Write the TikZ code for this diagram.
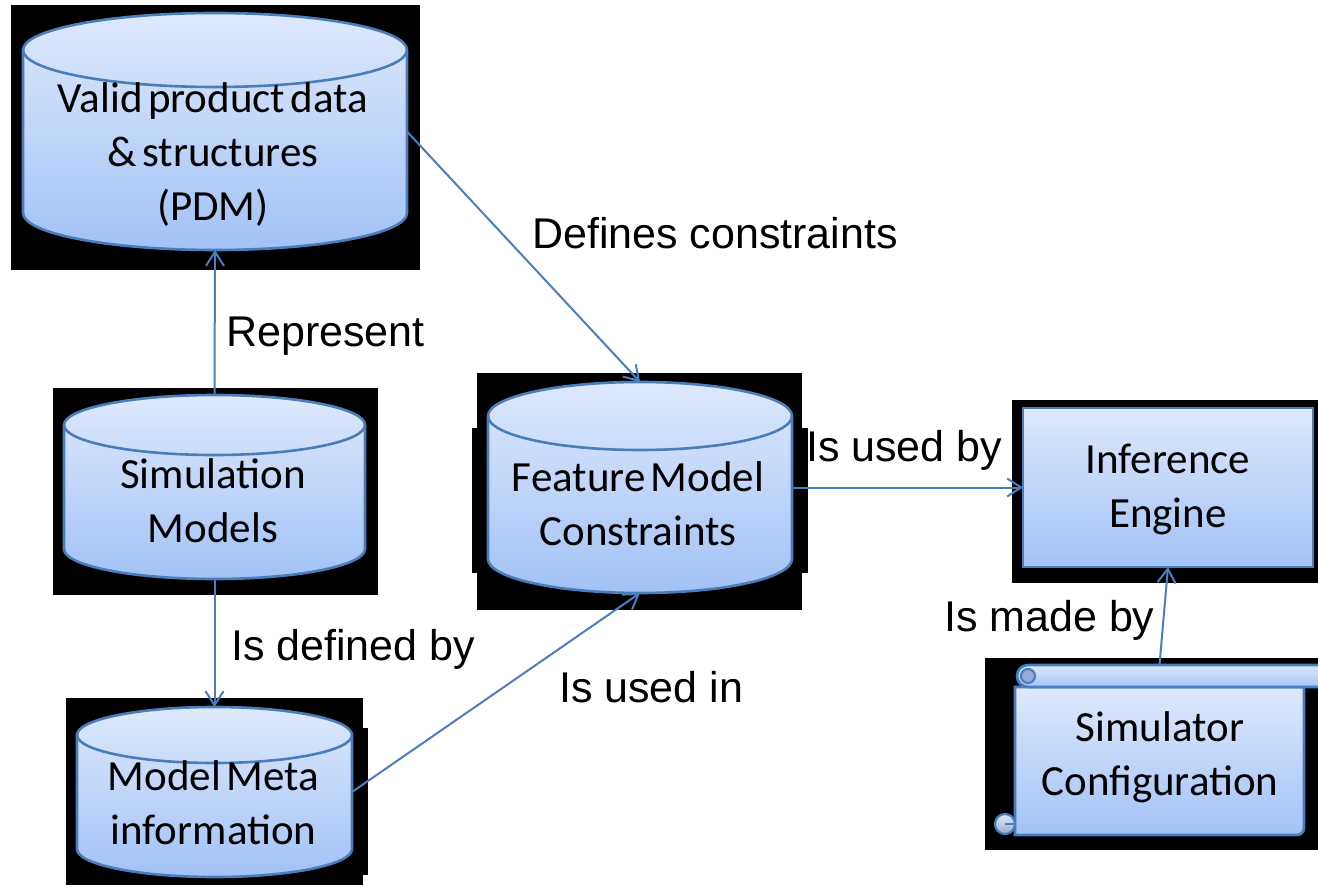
\documentclass[tikz,border=0pt]{standalone}
\usepackage{fontspec}
\setmainfont{Carlito}[WordSpace=0.55]
\newfontfamily\labelfont{Liberation Sans}
\usetikzlibrary{arrows.meta,calc}

\definecolor{shapetop}{RGB}{222,233,252}
\definecolor{shapebot}{RGB}{162,194,246}
\definecolor{shapeline}{RGB}{74,126,187}
\definecolor{linkcol}{RGB}{74,126,190}
\definecolor{curlfill}{RGB}{150,172,214}

\tikzset{
  x=1pt, y=-1pt,
  shadowbox/.style={fill=black, draw=none},
  area/.style={rectangle, draw=none, inner sep=0pt, outer sep=0pt},
  bodyfill/.style={draw=shapeline, line width=2.6pt, top color=shapetop, bottom color=shapebot},
  celltext/.style={inner sep=0pt, font=\fontsize{43}{54}\selectfont},
  linklabel/.style={inner sep=0pt, anchor=base west, font=\labelfont\fontsize{43}{50}\selectfont},
  conn/.style={draw=linkcol, line width=2pt, -{Straight Barb[length=14pt,width=18pt,line width=2pt]}},
}

% cylinder drawn inside the rectangle of a named node; #2 = half height of the end ellipses
\newcommand\drumshape[2]{%
  \path[bodyfill] let \p1=(#1.north west), \p2=(#1.south east), \n1={(\x2-\x1)/2} in
    (\x1,\y1-#2) -- (\x1,\y2+#2)
    arc[start angle=180, end angle=360, x radius=\n1, y radius=#2]
    -- (\x2,\y1-#2)
    arc[start angle=0, end angle=180, x radius=\n1, y radius=#2] -- cycle;
  \draw[draw=shapeline, line width=2.6pt] let \p1=(#1.north west), \p2=(#1.south east), \n1={(\x2-\x1)/2} in
    (\x1,\y1-#2) arc[start angle=180, end angle=360, x radius=\n1, y radius=#2];
}

\begin{document}
\begin{tikzpicture}
\useasboundingbox (0,0) rectangle (1318,888);

% areas of the shapes
\node[area, minimum width=384pt, minimum height=237pt] (pdm) at (215,131.5) {};
\node[area, minimum width=301pt, minimum height=184pt] (sim) at (214.5,487) {};
\node[area, minimum width=304pt, minimum height=211pt] (fmc) at (640,487.5) {};
\node[area, minimum width=275pt, minimum height=170pt] (meta) at (214.5,792) {};
\node[area, minimum width=290pt, minimum height=159pt] (inf) at (1168,487.5) {};
\node[area, minimum width=289pt, minimum height=170pt] (cfg) at (1159.5,750) {};

% black backdrops
\fill[shadowbox] (11,5) rectangle (420,270);
\fill[shadowbox] (53,388) rectangle (378,595);
\fill[shadowbox] (477,373) rectangle (802,610);
\fill[shadowbox] (472,428) rectangle (808,573);
\fill[shadowbox] (66,698) rectangle (363,885);
\fill[shadowbox] (66,728) rectangle (368,875);
\fill[shadowbox] (1012,400) rectangle (1318,583);
\fill[shadowbox] (985,658) rectangle (1318,850);

% databases
\drumshape{pdm}{37pt}
\drumshape{sim}{30pt}
\drumshape{fmc}{34pt}
\drumshape{meta}{28pt}

% inference engine
\path[bodyfill] (inf.north west) rectangle (inf.south east);

% scroll
\path[bodyfill] (1015,687) -- (1015,835) -- (1297,835)
  arc[start angle=270, end angle=360, radius=7pt] -- (1304,687) -- cycle;
\path[bodyfill] (1028,665) -- (1335,665) -- (1335,687) -- (1028,687)
  arc[start angle=270, end angle=90, radius=11pt] -- cycle;
\path[draw=shapeline, line width=2.2pt, fill=curlfill] (1028,676) circle[radius=7pt];
\path[draw=shapeline, line width=2.2pt, top color=shapetop, bottom color=curlfill] (1005,824) circle[radius=10pt];
\draw[shapeline, line width=2pt] (1005,824) -- (1015,824);

% texts of the shapes
\node[celltext] (pdm-t) at (213,156) {\begin{tabular}{@{}c@{}}Valid product data\\ \& structures\\ (PDM)\end{tabular}};
\node[celltext] (sim-t) at (213,504.7) {\begin{tabular}{@{}c@{}}Simulation\\ Models\end{tabular}};
\node[celltext] (fmc-t) at (638,507.7) {\begin{tabular}{@{}c@{}}Feature Model\\ Constraints\end{tabular}};
\node[celltext] (meta-t) at (213.5,806.7) {\begin{tabular}{@{}c@{}}Model Meta\\ information\end{tabular}};
\node[celltext] (inf-t) at (1168,489.2) {\begin{tabular}{@{}c@{}}Inference\\ Engine\end{tabular}};
\node[celltext] (cfg-t) at (1160,757.7) {\begin{tabular}{@{}c@{}}Simulator\\ Configuration\end{tabular}};

% connectors
\draw[conn] (sim.north) -- (pdm.south);
\draw[conn] (pdm.east) -- (fmc.north);
\draw[conn] (sim.south) -- (meta.north);
\draw[conn] (meta.east) -- (fmc.south);
\draw[conn] (fmc.east) -- (inf.west);
\draw[conn] (cfg.north) -- (inf.south);

% connector labels
\node[linklabel] (l-def) at (532,248) {Defines constraints};
\node[linklabel] (l-rep) at (226,346) {Represent};
\node[linklabel] (l-uby) at (806,461) {Is used by};
\node[linklabel] (l-dby) at (231,660) {Is defined by};
\node[linklabel] (l-uin) at (559,702) {Is used in};
\node[linklabel] (l-mby) at (944,631) {Is made by};
\end{tikzpicture}
\end{document}
